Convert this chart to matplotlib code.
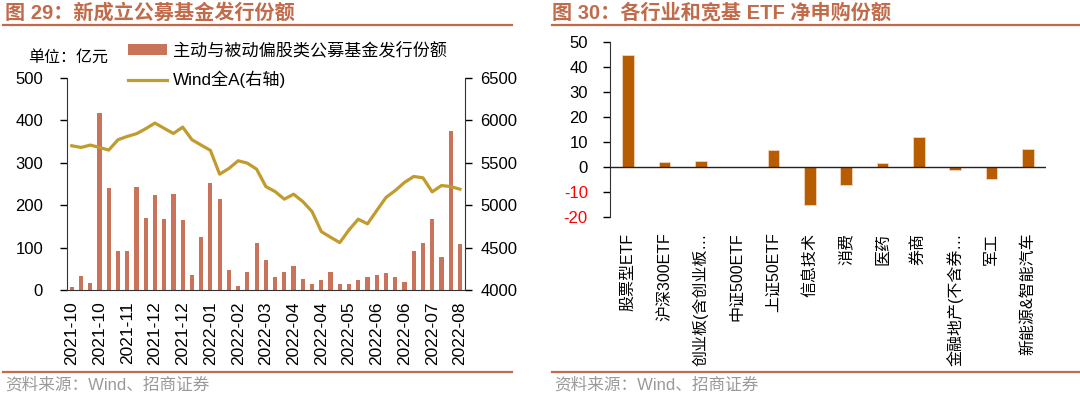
import matplotlib
matplotlib.use("Agg")
import matplotlib.pyplot as plt
from matplotlib.lines import Line2D
import numpy as np

plt.rcParams["font.family"] = ["Liberation Sans", "Noto Sans CJK SC"]
plt.rcParams["axes.unicode_minus"] = False

# 图29：周度公募基金发行份额（亿元）与 Wind全A（右轴）
issue_amount = [6, 34, 17, 417, 241, 93, 93, 244, 169, 223, 167, 227, 166, 36,
                126, 253, 214, 46, 10, 42, 110, 70, 30, 43, 57, 25, 13, 23, 43,
                14, 13, 24, 30, 35, 39, 30, 20, 92, 111, 168, 78, 375, 109]
wind_all_a = [5701, 5681, 5709, 5681, 5650, 5772, 5811, 5843, 5902, 5969, 5906,
              5846, 5921, 5772, 5709, 5646, 5366, 5433, 5524, 5496, 5425, 5220,
              5161, 5071, 5130, 5043, 4925, 4689, 4622, 4559, 4709, 4835, 4780,
              4937, 5091, 5173, 5268, 5339, 5323, 5157, 5232, 5220, 5189]
week_labels = ["2021-10", "2021-10", "2021-11", "2021-12", "2021-12", "2022-01",
               "2022-02", "2022-03", "2022-04", "2022-04", "2022-05", "2022-06",
               "2022-06", "2022-07", "2022-08"]
label_step = 3

# 图30：各行业和宽基 ETF 净申购份额
etf_names = ["股票型ETF", "沪深300ETF", "创业板(含创业板…", "中证500ETF", "上证50ETF",
             "信息技术", "消费", "医药", "券商", "金融地产(不含券…", "军工",
             "新能源&智能汽车"]
etf_net = [44.8, 1.9, 2.3, 0.0, 6.8, -14.9, -7.2, 1.7, 12.2, -1.2, -4.8, 7.2]

TITLE_COLOR = "#C26B4B"
BAR_COLOR = "#C9735A"
LINE_COLOR = "#C19B2E"
ETF_COLOR = "#B85C00"
SRC_COLOR = "#9A9A9A"

W, H = 1080, 395


def fx(px):
    return px / W


def fy(py):
    return 1 - py / H


fig = plt.figure(figsize=(W / 100, H / 100), dpi=100)

# ---------- 左图 ----------
ax1 = fig.add_axes([fx(66.7), fy(290), fx(465) - fx(66.7), fy(78) - fy(290)])
x = np.arange(len(issue_amount))
bars = ax1.bar(x, issue_amount, width=0.45, color=BAR_COLOR, zorder=2)
ax1.set_xlim(-0.55, len(x) - 0.45)
ax1.set_ylim(0, 500)
ax1.set_yticks(range(0, 501, 100))
ax1.set_xticks(x[::label_step], week_labels, rotation=90)
ax1.tick_params(axis="x", length=0, pad=8, labelsize=12.5)
ax1.tick_params(axis="y", length=5, width=1, pad=12, labelsize=12, direction="out")
for s in ("top", "right"):
    ax1.spines[s].set_visible(False)
ax1.spines["left"].set_color("#333333")
ax1.spines["bottom"].set_color("#333333")

ax2 = ax1.twinx()
line, = ax2.plot(x, wind_all_a, color=LINE_COLOR, lw=2.3, zorder=3)
ax2.set_ylim(4000, 6500)
ax2.set_yticks(range(4000, 6501, 500))
ax2.tick_params(axis="y", length=5, width=1, pad=6, labelsize=12, direction="out")
for s in ("top", "left", "bottom"):
    ax2.spines[s].set_visible(False)
ax2.spines["right"].set_color("#333333")

ax2.legend([bars, line], ["主动与被动偏股类公募基金发行份额", "Wind全A(右轴)"],
           loc="upper left", bbox_to_anchor=(fx(128), fy(42)),
           bbox_transform=fig.transFigure, frameon=False, fontsize=12.3,
           handlelength=2.3, handleheight=0.55, handletextpad=0.35,
           labelspacing=0.7, borderpad=0, borderaxespad=0)
fig.text(fx(28), fy(57), "单位：亿元", fontsize=11.5, va="center", ha="left")

# ---------- 右图 ----------
ax3 = fig.add_axes([fx(610), fy(217.3), fx(1046) - fx(610), fy(41.7) - fy(217.3)])
xe = np.arange(len(etf_net))
ax3.bar(xe, etf_net, width=0.32, color=ETF_COLOR, edgecolor="#F2D6BE",
        linewidth=0.6, zorder=2)
ax3.set_xlim(-0.5, len(xe) - 0.5)
ax3.set_ylim(-20, 50)
ax3.set_yticks(range(-20, 51, 10))
ax3.axhline(0, color="#222222", lw=1, zorder=3)
ax3.set_xticks(xe, etf_names, rotation=90)
ax3.tick_params(axis="x", length=0, pad=11, labelsize=11.5)
ax3.tick_params(axis="y", length=5, width=1, pad=11, labelsize=12, direction="out")
for s in ("top", "right", "bottom"):
    ax3.spines[s].set_visible(False)
ax3.spines["left"].set_color("#333333")
for lab, v in zip(ax3.get_yticklabels(), ax3.get_yticks()):
    if v < 0:
        lab.set_color("red")

# ---------- 标题、分隔线与来源 ----------
fig.text(fx(5), fy(13), "图 29：新成立公募基金发行份额", fontsize=14.5,
         fontweight="bold", color=TITLE_COLOR, va="center")
fig.text(fx(552), fy(13), "图 30：各行业和宽基 ETF 净申购份额", fontsize=14.5,
         fontweight="bold", color=TITLE_COLOR, va="center")
for x0, x1 in ((3, 512), (552, 1080)):
    for yy in (25, 371.5):
        fig.add_artist(Line2D([fx(x0), fx(x1)], [fy(yy), fy(yy)],
                              color=TITLE_COLOR, lw=1.6))
    fig.text(fx(x0 + 2), fy(385), "资料来源：Wind、招商证券", fontsize=12,
             color=SRC_COLOR, va="center")

fig.savefig("out.png", dpi=100)
